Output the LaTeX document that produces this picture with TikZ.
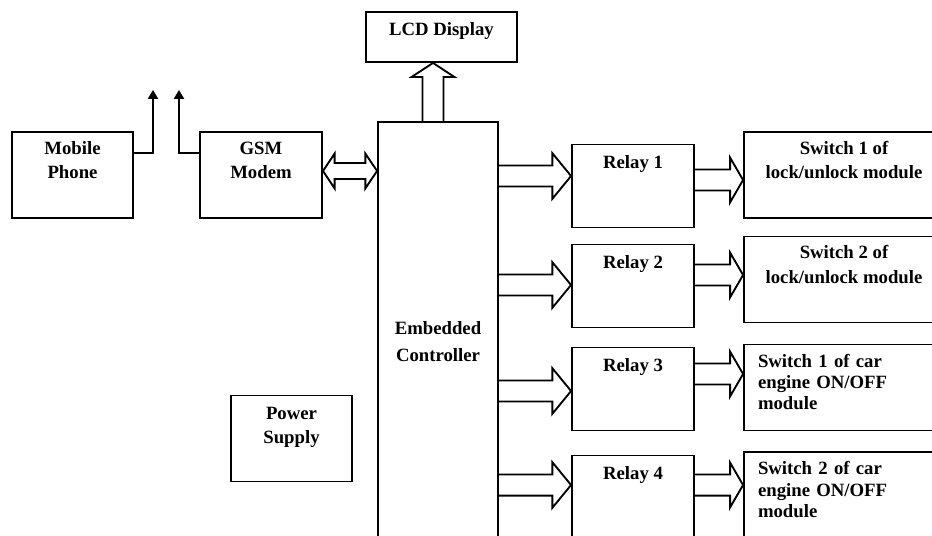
\documentclass[tikz,border=0pt]{standalone}
\usepackage{fontspec}
\setmainfont{Liberation Serif}
\usetikzlibrary{positioning}
\usetikzlibrary{calc,arrows.meta}

\begin{document}
\begin{tikzpicture}[x=0.03cm,y=-0.03cm,on grid,line width=1.6pt,line join=miter,
  blk/.style={draw,inner sep=0pt,align=center,font=\fontsize{16}{21}\selectfont\bfseries},
  unit/.style={blk,minimum width=3.63cm,minimum height=2.58cm,text height=32pt,text depth=25.7pt},
  relay/.style={blk,minimum width=3.66cm,minimum height=2.49cm,text height=11pt,text depth=41.6pt},
  sw/.style={blk,minimum width=6cm,minimum height=2.58cm,text height=32pt,text depth=25.7pt},
  swl/.style={sw,align=left,text width=5.16cm,inner xsep=0.42cm,text height=11pt,text depth=45.9pt,font=\fontsize{16}{18.3}\selectfont\bfseries},
  ant/.style={-{Triangle[length=7.5pt,width=8.5pt]}},
  fatright/.style n args={3}{to path={let \p1=(\tikztostart),\p2=(\tikztotarget) in
      (\x1,\y2+#1) -- (\x2-#3,\y2+#1) -- (\x2-#3,\y2+#2) -- (\x2,\y2)
      -- (\x2-#3,\y2-#2) -- (\x2-#3,\y2-#1) -- (\x1,\y2-#1)}},
  fatup/.style n args={3}{to path={let \p1=(\tikztostart),\p2=(\tikztotarget) in
      (\x2-#1,\y1) -- (\x2-#1,\y2-#3) -- (\x2-#2,\y2-#3) -- (\x2,\y2)
      -- (\x2+#2,\y2-#3) -- (\x2+#1,\y2-#3) -- (\x2+#1,\y1)}},
  fatboth/.style n args={3}{to path={let \p1=(\tikztostart),\p2=(\tikztotarget) in
      (\x1,\y1) -- (\x1+#3,\y1+#2) -- (\x1+#3,\y1+#1) -- (\x2-#3,\y1+#1) -- (\x2-#3,\y1+#2)
      -- (\x2,\y1) -- (\x2-#3,\y1-#2) -- (\x2-#3,\y1-#1) -- (\x1+#3,\y1-#1) -- (\x1+#3,\y1-#2) -- cycle}}]
  \clip (0,0) rectangle (932,535);
  \node[unit] (mobile) at (72.5,175) {Mobile\\Phone};
  \node[unit] (gsm) [right=5.655cm of mobile,minimum width=3.66cm] {GSM\\Modem};
  \node[blk] (lcd) at (441.5,37) [minimum width=4.53cm,minimum height=1.5cm,text height=11pt,text depth=14.4pt] {LCD Display};
  \node[blk] (ctrl) at (438,342) [minimum width=3.6cm,minimum height=13.2cm,text height=34pt,text depth=0pt,font=\fontsize{16}{23}\selectfont\bfseries] {Embedded\\Controller};
  \node[unit] (power) at (291.5,438.5) [text depth=23.2pt] {Power\\Supply};
   \node[relay] (relay1) at (633,186) {Relay 1};
   \node[relay] (relay2) [below=3cm of relay1] {Relay 2};
   \node[relay] (relay3) [below=3.09cm of relay2] {Relay 3};
   \node[relay] (relay4) [below=3.24cm of relay3] {Relay 4};
  \node[sw] (sw1) at (844,175) {Switch 1 of\\lock/unlock module};
  \node[sw] (sw2) [below=3.135cm of sw1] {Switch 2 of\\lock/unlock module};
  \node[swl] (sw3) [below=3.24cm of sw2] {Switch 1 of car\\engine ON/OFF\\module};
  \node[swl] (sw4) [below=3.225cm of sw3] {Switch 2 of car\\engine ON/OFF\\module};
  \coordinate (ant1) at (153,90);
  \coordinate (ant2) at (179,90);
   \draw[ant] ($(mobile.east)+(0,-22)$) -| (ant1);
   \draw[ant] ($(gsm.west)+(0,-22)$) -| (ant2);
   \draw ($(gsm.east)+(0,-4)$) to[fatboth={6.8pt}{14.9pt}{10pt}] (ctrl.west);
   \draw (ctrl.north) to[fatup={9pt}{18.3pt}{12pt}] ($(lcd.south)+(-8.5,0)$);
   \draw (ctrl.east) to[fatright={9pt}{19.5pt}{16pt}] ($(relay1.west)+(0,-10)$);
   \draw (ctrl.east) to[fatright={9pt}{19.5pt}{16pt}] ($(relay2.west)+(0,-1)$);
   \draw (ctrl.east) to[fatright={9pt}{19.5pt}{16pt}] ($(relay3.west)+(0,2)$);
   \draw (ctrl.east) to[fatright={9pt}{19.5pt}{16pt}] ($(relay4.west)+(0,-12)$);
   \draw (relay1.east) to[fatright={9pt}{19pt}{11pt}] ($(sw1.west)+(0,5)$);
   \draw (relay2.east) to[fatright={9pt}{19pt}{11pt}] ($(sw2.west)+(0,-4.5)$);
   \draw (relay3.east) to[fatright={9pt}{19pt}{11pt}] ($(sw3.west)+(0,-13.5)$);
   \draw (relay4.east) to[fatright={9pt}{19pt}{11pt}] ($(sw4.west)+(0,-10)$);
\end{tikzpicture}
\end{document}
